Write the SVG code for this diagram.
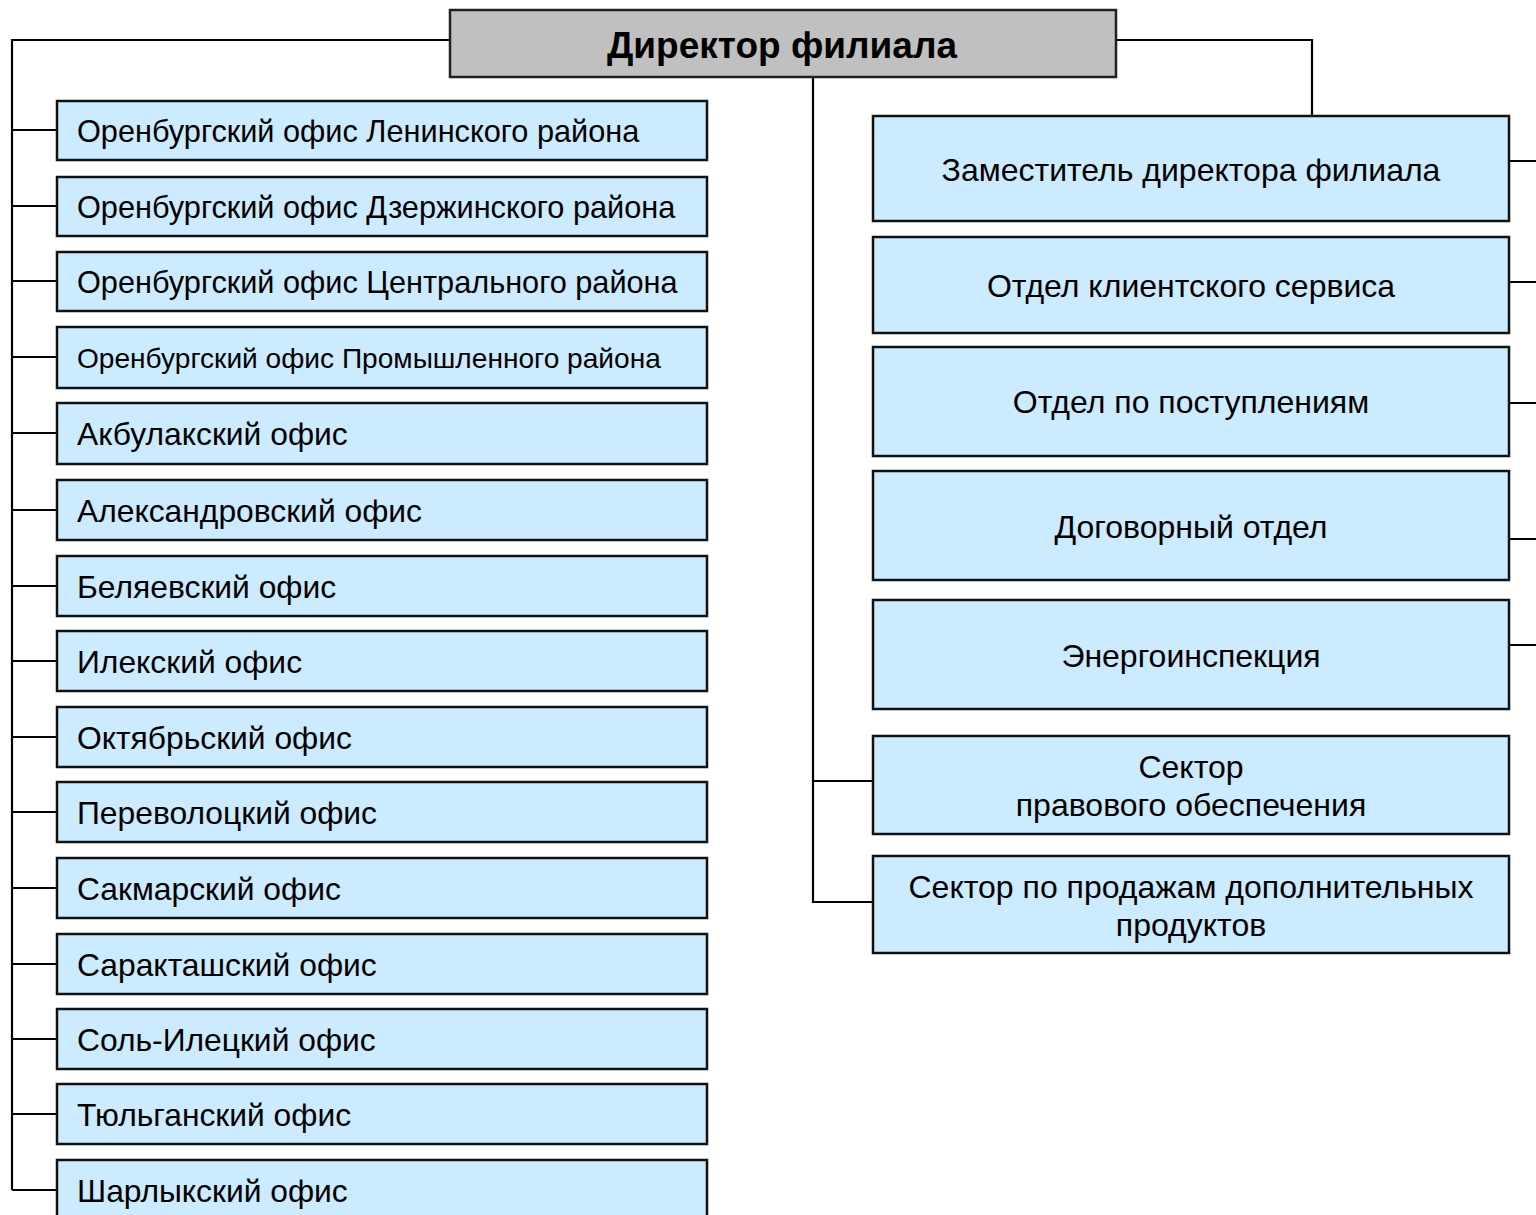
<svg xmlns="http://www.w3.org/2000/svg" width="1536" height="1215" viewBox="0 0 1536 1215">
<style>
.b{fill:#ccebff;stroke:#111;stroke-width:2.5}
.h{fill:#c0c0c0;stroke:#222;stroke-width:2.5}
.t{font-family:"Liberation Sans",Arial,sans-serif;font-size:31.8px;fill:#000}
.lg{font-size:30.7px}
.s{font-size:28.1px}
.c{text-anchor:middle;font-size:32px}
.ht{font-family:"Liberation Sans",Arial,sans-serif;font-size:37px;font-weight:bold;text-anchor:middle;fill:#000}
.ln{fill:none;stroke:#000;stroke-width:2.2}
</style>
<rect width="1536" height="1215" fill="#fff"/>
<g id="connectors">
<path class="ln" d="M450,40 H12 V1190"/>
<path class="ln" d="M12,130 H57 M12,206 H57 M12,281 H57 M12,357 H57 M12,433 H57 M12,510 H57 M12,586 H57 M12,661 H57 M12,737 H57 M12,812 H57 M12,888 H57 M12,964 H57 M12,1039 H57 M12,1114 H57 M12,1190 H57"/>
<path class="ln" d="M1116,40 H1312 V116"/>
<path class="ln" d="M1509,161 H1536 M1509,282 H1536 M1509,403 H1536 M1509,539 H1536 M1509,645 H1536"/>
<path class="ln" d="M813,77 V902 H873 M813,781 H873"/>
</g>
<g id="n0"><rect class="h" x="450" y="10" width="666" height="67"/><text class="ht" x="782" y="58">Директор филиала</text></g>
<g id="l1"><rect class="b" x="57" y="101" width="650" height="59"/><text class="t lg" x="77" y="142">Оренбургский офис Ленинского района</text></g>
<g id="l2"><rect class="b" x="57" y="177" width="650" height="59"/><text class="t lg" x="77" y="218">Оренбургский офис Дзержинского района</text></g>
<g id="l3"><rect class="b" x="57" y="252" width="650" height="59"/><text class="t lg" x="77" y="293">Оренбургский офис Центрального района</text></g>
<g id="l4"><rect class="b" x="57" y="327" width="650" height="61"/><text class="t s" x="77" y="368">Оренбургский офис Промышленного района</text></g>
<g id="l5"><rect class="b" x="57" y="403" width="650" height="61"/><text class="t" x="77" y="445">Акбулакский офис</text></g>
<g id="l6"><rect class="b" x="57" y="480" width="650" height="60"/><text class="t" x="77" y="522">Александровский офис</text></g>
<g id="l7"><rect class="b" x="57" y="556" width="650" height="60"/><text class="t" x="77" y="598">Беляевский офис</text></g>
<g id="l8"><rect class="b" x="57" y="631" width="650" height="60"/><text class="t" x="77" y="673">Илекский офис</text></g>
<g id="l9"><rect class="b" x="57" y="707" width="650" height="60"/><text class="t" x="77" y="749">Октябрьский офис</text></g>
<g id="l10"><rect class="b" x="57" y="782" width="650" height="60"/><text class="t" x="77" y="824">Переволоцкий офис</text></g>
<g id="l11"><rect class="b" x="57" y="858" width="650" height="60"/><text class="t" x="77" y="900">Сакмарский офис</text></g>
<g id="l12"><rect class="b" x="57" y="934" width="650" height="60"/><text class="t" x="77" y="976">Саракташский офис</text></g>
<g id="l13"><rect class="b" x="57" y="1009" width="650" height="60"/><text class="t" x="77" y="1051">Соль-Илецкий офис</text></g>
<g id="l14"><rect class="b" x="57" y="1084" width="650" height="60"/><text class="t" x="77" y="1126">Тюльганский офис</text></g>
<g id="l15"><rect class="b" x="57" y="1160" width="650" height="70"/><text class="t" x="77" y="1202">Шарлыкский офис</text></g>
<g id="r1"><rect class="b" x="873" y="116" width="636" height="105"/><text class="t c" x="1191" y="181">Заместитель директора филиала</text></g>
<g id="r2"><rect class="b" x="873" y="237" width="636" height="96"/><text class="t c" x="1191" y="297">Отдел клиентского сервиса</text></g>
<g id="r3"><rect class="b" x="873" y="347" width="636" height="109"/><text class="t c" x="1191" y="413">Отдел по поступлениям</text></g>
<g id="r4"><rect class="b" x="873" y="471" width="636" height="109"/><text class="t c" x="1191" y="538">Договорный отдел</text></g>
<g id="r5"><rect class="b" x="873" y="600" width="636" height="109"/><text class="t c" x="1191" y="667">Энергоинспекция</text></g>
<g id="r6"><rect class="b" x="873" y="736" width="636" height="98"/><text class="t c" x="1191" y="778">Сектор</text><text class="t c" x="1191" y="816">правового обеспечения</text></g>
<g id="r7"><rect class="b" x="873" y="856" width="636" height="97"/><text class="t c" x="1191" y="898">Сектор по продажам дополнительных</text><text class="t c" x="1191" y="936">продуктов</text></g>
</svg>
